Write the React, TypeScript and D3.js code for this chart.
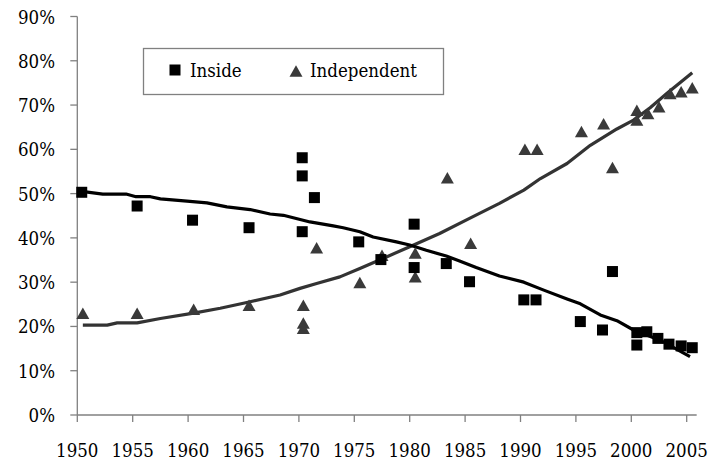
import React from 'react';
import * as d3 from 'd3';

// scatter points (year, share in %)
const insideYears = [1950.4, 1955.4, 1960.4, 1965.5, 1970.3, 1970.3, 1970.3, 1971.4, 1975.4, 1977.4, 1980.4, 1980.4, 1983.3, 1985.4, 1990.3, 1991.4, 1995.4, 1997.4, 1998.3, 2000.5, 2000.5, 2001.4, 2002.4, 2003.4, 2004.5, 2005.5];
const insideValues = [50.3, 47.2, 44.0, 42.3, 58.1, 54.0, 41.4, 49.1, 39.1, 35.1, 43.1, 33.3, 34.2, 30.1, 26.0, 26.0, 21.1, 19.2, 32.4, 18.6, 15.8, 18.8, 17.3, 16.0, 15.6, 15.2];

const independentYears = [1950.5, 1955.4, 1960.5, 1965.5, 1970.4, 1970.4, 1970.4, 1971.6, 1975.5, 1977.5, 1980.5, 1980.5, 1983.4, 1985.5, 1990.4, 1991.5, 1995.5, 1997.5, 1998.3, 2000.5, 2000.5, 2001.5, 2002.5, 2003.5, 2004.5, 2005.5];
const independentValues = [23.0, 23.0, 23.9, 24.8, 24.8, 20.8, 19.6, 37.8, 29.9, 36.1, 36.6, 31.2, 53.6, 38.8, 60.0, 60.0, 64.0, 65.8, 55.9, 68.8, 66.6, 68.1, 69.6, 72.6, 73.0, 73.9];

// fitted trend lines
const insideTrendYears = [1950.4, 1952.3, 1954.4, 1955.3, 1956.6, 1957.5, 1959.9, 1961.7, 1963.5, 1965.6, 1967.4, 1968.6, 1971.0, 1973.1, 1974.0, 1975.5, 1976.7, 1978.8, 1980.0, 1981.5, 1983.3, 1984.5, 1986.0, 1988.1, 1990.3, 1992.1, 1994.2, 1995.4, 1997.2, 1998.7, 2000.2, 2002.6, 2005.3];
const insideTrendValues = [50.5, 49.9, 49.9, 49.3, 49.3, 48.8, 48.3, 47.9, 47.0, 46.4, 45.4, 45.1, 43.6, 42.7, 42.3, 41.4, 40.2, 39.1, 38.4, 37.2, 35.9, 34.8, 33.3, 31.4, 30.0, 28.2, 26.2, 25.1, 22.6, 21.3, 19.2, 16.9, 13.2];

const independentTrendYears = [1950.5, 1952.7, 1953.6, 1955.4, 1957.5, 1960.5, 1962.9, 1965.3, 1968.3, 1970.1, 1971.6, 1973.7, 1975.5, 1977.9, 1980.0, 1982.7, 1985.4, 1988.1, 1990.3, 1991.8, 1994.2, 1996.3, 1998.7, 2000.2, 2001.7, 2003.2, 2005.5];
const independentTrendValues = [20.3, 20.3, 20.8, 20.8, 21.8, 23.0, 24.1, 25.4, 27.1, 28.6, 29.7, 31.2, 33.1, 35.7, 38.0, 41.0, 44.4, 47.8, 50.8, 53.4, 56.8, 60.9, 64.6, 66.6, 69.4, 72.6, 77.3];

const xTicks = [1950, 1955, 1960, 1965, 1970, 1975, 1980, 1985, 1990, 1995, 2000, 2005];
const yTicks = [0, 10, 20, 30, 40, 50, 60, 70, 80, 90];

const seriesNames = ['Inside', 'Independent'];

const W = 716;
const H = 463;
// no Times-like face installed: condensed DejaVu Serif comes closest in width
const font = "'DejaVu Serif Condensed', 'DejaVu Serif', serif";

export default function App() {
  const x = d3.scaleLinear().domain([1950, 2005]).range([77.3, 686.7]);
  const y = d3.scaleLinear().domain([0, 90]).range([415, 16.5]);
  const xEnd = x(2005.9);

  const line = d3.line<[number, number]>().x(d => x(d[0])).y(d => y(d[1]));
  const insideTrend = line(insideTrendYears.map((yr, i) => [yr, insideTrendValues[i]]));
  const indepTrend = line(independentTrendYears.map((yr, i) => [yr, independentTrendValues[i]]));

  const sq = 11;
  const tri = (cx: number, cy: number) => {
    const w = 13, h = 11.5;
    return `M${cx - w / 2},${cy + h / 2}L${cx},${cy - h / 2}L${cx + w / 2},${cy + h / 2}Z`;
  };

  return (
    <svg width={W} height={H} fontFamily={font} fontSize={18.5}
      style={{ position: 'absolute', left: 0, top: 0, background: '#fff' }}>
      {/* axes */}
      <g stroke="#808080" strokeWidth={1.3} fill="none">
        <line x1={x(1950)} x2={x(1950)} y1={y(90)} y2={y(0)} />
        <line x1={x(1950)} x2={xEnd} y1={y(0)} y2={y(0)} />
        {yTicks.map(t => (
          <line key={t} x1={x(1950) - 7} x2={x(1950)} y1={y(t)} y2={y(t)} />
        ))}
        {xTicks.map(t => (
          <line key={t} x1={x(t)} x2={x(t)} y1={y(0)} y2={y(0) + 7} />
        ))}
      </g>
      <g fill="#000">
        {yTicks.map(t => (
          <text key={t} x={55} y={y(t) + 7} textAnchor="end">{t}%</text>
        ))}
        {xTicks.map(t => (
          <text key={t} x={x(t)} y={457} textAnchor="middle">{t}</text>
        ))}
      </g>

      {/* trend lines */}
      <path d={indepTrend || ''} fill="none" stroke="#333333" strokeWidth={3.2} strokeLinejoin="round" />
      <path d={insideTrend || ''} fill="none" stroke="#000" strokeWidth={3.2} strokeLinejoin="round" />

      {/* points */}
      {independentYears.map((yr, i) => (
        <path key={'t' + i} d={tri(x(yr), y(independentValues[i]))} fill="#3a3a3a" />
      ))}
      {insideYears.map((yr, i) => (
        <rect key={'s' + i} x={x(yr) - sq / 2} y={y(insideValues[i]) - sq / 2} width={sq} height={sq} fill="#000" />
      ))}

      {/* legend */}
      <rect x={143.5} y={48.5} width={300} height={46} fill="#fff" stroke="#808080" strokeWidth={1.3} />
      <rect x={175 - 5.5} y={70 - 5.5} width={11} height={11} fill="#000" />
      <text x={190} y={77}>{seriesNames[0]}</text>
      <path d={tri(296, 71)} fill="#3a3a3a" />
      <text x={310} y={77}>{seriesNames[1]}</text>
    </svg>
  );
}
